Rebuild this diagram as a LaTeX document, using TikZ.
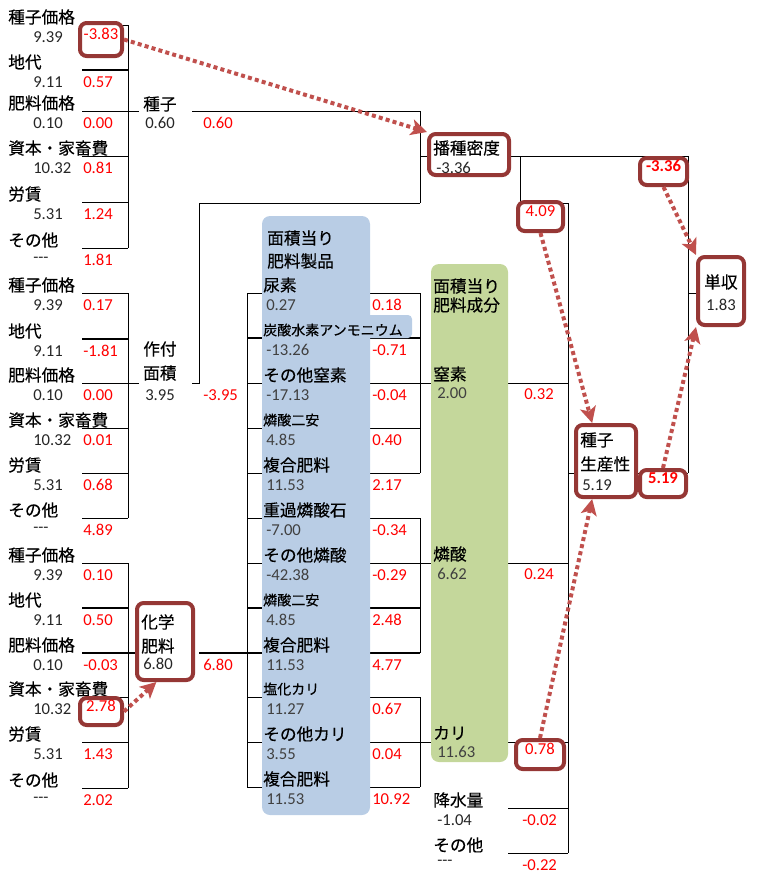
\documentclass[tikz,border=0pt]{standalone}
\usepackage{fontspec}
\setmainfont{Carlito}
\newfontfamily\jp[FakeBold=0.35]{Noto Sans CJK JP}
\usetikzlibrary{arrows.meta, fit}
\definecolor{pmblue}{RGB}{185, 205, 229}
\definecolor{pmgreen}{RGB}{196, 215, 155}
\definecolor{pmbox}{RGB}{149, 55, 53}
\definecolor{pmarrow}{RGB}{192, 80, 77}
\definecolor{pmgray}{RGB}{64, 64, 64}
\definecolor{pmred}{RGB}{255, 0, 0}

\begin{document}
\begin{tikzpicture}[
  x=0.75pt, y=-0.75pt,
  lab/.style={
    anchor=west, inner sep=0pt,
    font=\jp\fontsize{12.5}{15}\selectfont
  },
  smlab/.style={lab, font=\jp\fontsize{10.5}{12}\selectfont},
  val/.style={
    anchor=west, inner sep=0pt,
    font=\fontsize{12.5}{15}\selectfont, text=black!85
  },
  pval/.style={val, text=pmgray},
  coef/.style={val, text=pmred},
  bar/.style={draw=black, line width=0.75pt},
  thickbar/.style={draw=black, line width=1.6pt},
  hlbox/.style={
    rectangle, rounded corners=5pt,
    draw=pmbox, fill=white,
    line width=3pt, inner sep=0pt,
    font=\fontsize{12.5}{15}\selectfont, text=pmred
  },
  hlarrow/.style={
    draw=pmarrow, line width=3pt,
    dash pattern=on 3pt off 2.4pt,
    -{Stealth[length=12pt, width=12pt, inset=3pt]}
  },
]
\useasboundingbox (0,0) rectangle (757,879);

%% ================================================================
%% BRACKET LINES
%% ================================================================

% group 1 -> seed
\draw[bar] (82,25) -- (128,25);
\draw[thickbar] (82,70) -- (128,70);
\draw[bar] (82,111) -- (139,111);
\draw[bar] (82,156) -- (128,156);
\draw[bar] (82,202) -- (128,202);
\draw[bar] (82,248) -- (128,248);
\draw[bar] (128,25) -- (128,248);

% group 2 -> sown area
\draw[bar] (82,293) -- (128,293);
\draw[thickbar] (82,339) -- (128,339);
\draw[bar] (82,383) -- (139,383);
\draw[bar] (82,428) -- (128,428);
\draw[bar] (82,473) -- (128,473);
\draw[bar] (82,518) -- (128,518);
\draw[bar] (128,293) -- (128,518);

% group 3 -> chemical fertilizer
\draw[bar] (82,563) -- (128,563);
\draw[thickbar] (82,608) -- (128,608);
\draw[thickbar] (82,653) -- (139,653);
\draw[bar] (82,697) -- (128,697);
\draw[bar] (82,742) -- (128,742);
\draw[bar] (82,788) -- (128,788);
\draw[bar] (128,563) -- (128,788);

% seed + sown area -> sowing density
\draw[bar] (192,111) -- (420,111);
\draw[bar] (192,383) -- (199,383) -- (199,203) -- (420,203);
\draw[bar] (420,111) -- (420,203);
\draw[bar] (420,156) -- (427,156);

% sowing density + seed productivity -> yield
\draw[bar] (511,156) -- (688,156);
\draw[bar] (688,156) -- (688,473);
\draw[bar] (688,293) -- (696,293);

% inputs -> seed productivity
\draw[bar] (520,156) -- (520,203) -- (568,203);
\draw[bar] (568,203) -- (568,853);
\draw[bar] (568,473) -- (574,473);
\draw[bar] (638,473) -- (688,473);

% chemical fertilizer -> products
\draw[thickbar] (199,653) -- (247,653);
\draw[bar] (247,293) -- (247,787);
\draw[bar] (247,293) -- (420,293);
\draw[thickbar] (247,338) -- (420,338);
\draw[bar] (247,383) -- (420,383);
\draw[bar] (247,428) -- (420,428);
\draw[bar] (247,473) -- (420,473);
\draw[bar] (247,518) -- (420,518);
\draw[bar] (247,563) -- (420,563);
\draw[thickbar] (247,608) -- (420,608);
\draw[thickbar] (247,653) -- (420,653);
\draw[bar] (247,697) -- (420,697);
\draw[bar] (247,742) -- (420,742);
\draw[bar] (247,787) -- (420,787);

% products -> nutrients -> seed productivity
\draw[bar] (420,293) -- (420,473);
\draw[bar] (420,518) -- (420,653);
\draw[bar] (420,697) -- (420,787);
\draw[bar] (420,383) -- (568,383);
\draw[bar] (420,563) -- (568,563);
\draw[bar] (420,742) -- (568,742);
\draw[bar] (508,808) -- (568,808);
\draw[bar] (508,853) -- (568,853);

%% ================================================================
%% PANELS
%% ================================================================
\fill[pmblue, rounded corners=6pt] (262,216) rectangle (370,815);
\fill[pmblue, rounded corners=3pt] (330,315) rectangle (412,338);
\fill[pmgreen, rounded corners=6pt] (431,264) rectangle (508,762);

%% ================================================================
%% LEFT COLUMN: prices and costs
%% ================================================================

% group 1
\node[lab] (sdpr) at (8,17) {種子価格};
\node[val] (sdprv) at (33,37) {9.39};
\node[lab] (sdrent) at (8,62) {地代};
\node[val] (sdrentv) at (33,82) {9.11};
\node[coef] (sdrentc) at (83,82) {0.57};
\node[lab] (sdfp) at (8,103) {肥料価格};
\node[val] (sdfpv) at (33,123) {0.10};
\node[coef] (sdfpc) at (83,123) {0.00};
\node[lab] (sdcap) at (8,148) {資本・家畜費};
\node[val] (sdcapv) at (33,168) {10.32};
\node[coef] (sdcapc) at (83,168) {0.81};
\node[lab] (sdlab) at (8,194) {労賃};
\node[val] (sdlabv) at (33,214) {5.31};
\node[coef] (sdlabc) at (83,214) {1.24};
\node[lab] (sdoth) at (8,240) {その他};
\node[val] (sdothv) at (33,260) {-{}-{}-};
\node[coef] (sdothc) at (83,260) {1.81};

% group 2
\node[lab] (arpr) at (8,285) {種子価格};
\node[val] (arprv) at (33,305) {9.39};
\node[coef] (arprc) at (83,305) {0.17};
\node[lab] (arrent) at (8,331) {地代};
\node[val] (arrentv) at (33,351) {9.11};
\node[coef] (arrentc) at (83,351) {-1.81};
\node[lab] (arfp) at (8,375) {肥料価格};
\node[val] (arfpv) at (33,395) {0.10};
\node[coef] (arfpc) at (83,395) {0.00};
\node[lab] (arcap) at (8,420) {資本・家畜費};
\node[val] (arcapv) at (33,440) {10.32};
\node[coef] (arcapc) at (83,440) {0.01};
\node[lab] (arlab) at (8,465) {労賃};
\node[val] (arlabv) at (33,485) {5.31};
\node[coef] (arlabc) at (83,485) {0.68};
\node[lab] (aroth) at (8,510) {その他};
\node[val] (arothv) at (33,530) {-{}-{}-};
\node[coef] (arothc) at (83,530) {4.89};

% group 3
\node[lab] (cfpr) at (8,555) {種子価格};
\node[val] (cfprv) at (33,575) {9.39};
\node[coef] (cfprc) at (83,575) {0.10};
\node[lab] (cfrent) at (8,600) {地代};
\node[val] (cfrentv) at (33,620) {9.11};
\node[coef] (cfrentc) at (83,620) {0.50};
\node[lab] (cffp) at (8,645) {肥料価格};
\node[val] (cffpv) at (33,665) {0.10};
\node[coef] (cffpc) at (83,665) {-0.03};
\node[lab] (cfcap) at (8,689) {資本・家畜費};
\node[val] (cfcapv) at (33,709) {10.32};
\node[lab] (cflab) at (8,734) {労賃};
\node[val] (cflabv) at (33,754) {5.31};
\node[coef] (cflabc) at (83,754) {1.43};
\node[lab] (cfoth) at (8,780) {その他};
\node[val] (cfothv) at (33,800) {-{}-{}-};
\node[coef] (cfothc) at (83,800) {2.02};

%% ================================================================
%% SECOND COLUMN: seed, sown area, chemical fertilizer
%% ================================================================
\node[lab] (seed) at (143,104) {種子};
\node[val] (seedv) at (145,123) {0.60};
\node[coef] (seedc) at (203,123) {0.60};

\node[lab] (area1) at (143,349) {作付};
\node[lab] (area2) at (143,373) {面積};
\node[val] (areav) at (145,395) {3.95};
\node[coef] (areac) at (203,395) {-3.95};

\node[hlbox, fit={(137,603) (193,680)}] (chem) {};
\node[lab] (chem1) at (141,622) {化学};
\node[lab] (chem2) at (141,646) {肥料};
\node[val] (chemv) at (143,664) {6.80};
\node[coef] (chemc) at (203,665) {6.80};

%% ================================================================
%% BLUE PANEL: fertilizer products per area
%% ================================================================
\node[lab] (prodt1) at (267,238) {面積当り};
\node[lab] (prodt2) at (267,261) {肥料製品};

\node[lab] (urea) at (263,285) {尿素};
\node[pval] (ureav) at (266,305) {0.27};
\node[coef] (ureac) at (372,305) {0.18};
\node[smlab] (abc) at (263,330) {炭酸水素アンモニウム};
\node[pval] (abcv) at (266,350) {-13.26};
\node[coef] (abcc) at (372,350) {-0.71};
\node[lab] (onit) at (263,375) {その他窒素};
\node[pval] (onitv) at (266,395) {-17.13};
\node[coef] (onitc) at (372,395) {-0.04};
\node[smlab] (dapa) at (263,420) {燐酸二安};
\node[pval] (dapav) at (266,440) {4.85};
\node[coef] (dapac) at (372,440) {0.40};
\node[lab] (cmpa) at (263,465) {複合肥料};
\node[pval] (cmpav) at (266,485) {11.53};
\node[coef] (cmpac) at (372,485) {2.17};
\node[lab] (tsp) at (263,510) {重過燐酸石};
\node[pval] (tspv) at (266,530) {-7.00};
\node[coef] (tspc) at (372,530) {-0.34};
\node[lab] (ophos) at (263,555) {その他燐酸};
\node[pval] (ophosv) at (266,575) {-42.38};
\node[coef] (ophosc) at (372,575) {-0.29};
\node[smlab] (dapb) at (263,600) {燐酸二安};
\node[pval] (dapbv) at (266,620) {4.85};
\node[coef] (dapbc) at (372,620) {2.48};
\node[lab] (cmpb) at (263,645) {複合肥料};
\node[pval] (cmpbv) at (266,665) {11.53};
\node[coef] (cmpbc) at (372,665) {4.77};
\node[smlab] (kcl) at (263,689) {塩化カリ};
\node[pval] (kclv) at (266,709) {11.27};
\node[coef] (kclc) at (372,709) {0.67};
\node[lab] (opot) at (263,734) {その他カリ};
\node[pval] (opotv) at (266,754) {3.55};
\node[coef] (opotc) at (372,754) {0.04};
\node[lab] (cmpc) at (263,779) {複合肥料};
\node[pval] (cmpcv) at (266,799) {11.53};
\node[coef] (cmpcc) at (372,799) {10.92};

%% ================================================================
%% GREEN PANEL: nutrients per area
%% ================================================================
\node[lab] (nutt1) at (433,286) {面積当り};
\node[lab] (nutt2) at (433,305) {肥料成分};

\node[lab] (nitro) at (433,374) {窒素};
\node[pval] (nitrov) at (437,393) {2.00};
\node[coef] (nitroc) at (524,394) {0.32};
\node[lab] (phos) at (433,554) {燐酸};
\node[pval] (phosv) at (437,574) {6.62};
\node[coef] (phosc) at (524,574) {0.24};
\node[lab] (pota) at (433,733) {カリ};
\node[pval] (potav) at (437,752) {11.63};

\node[lab] (rain) at (433,800) {降水量};
\node[val] (rainv) at (437,820) {-1.04};
\node[coef] (rainc) at (522,820) {-0.02};
\node[lab] (other) at (433,845) {その他};
\node[val] (otherv) at (437,863) {-{}-{}-};
\node[coef] (otherc) at (522,865) {-0.22};

%% ================================================================
%% RESULT BOXES
%% ================================================================
\node[hlbox, fit={(429,134) (509,175)}] (sow) {};
\node[lab] (sowl) at (433,148) {播種密度};
\node[val] (sowv) at (436,168) {-3.36};

\node[hlbox, fit={(576,425) (636,497)}] (seedprod) {};
\node[lab] (sp1) at (580,440) {種子};
\node[lab] (sp2) at (580,464) {生産性};
\node[val] (spv) at (582,485) {5.19};

\node[hlbox, fit={(698,257) (744,325)}] (yield) {};
\node[lab, anchor=center] (yieldl) at (721,282) {単収};
\node[val, anchor=center] (yieldv) at (721,305) {1.83};

% highlighted coefficients
\node[hlbox, fit={(80,23) (122,56)}] (b383) {-3.83};
\node[hlbox, fit={(80,698) (122,725)}] (b278) {2.78};
\node[hlbox, fit={(518,202) (563,231)}] (b409) {4.09};
\node[hlbox, fit={(640,158) (687,185)}, font=\fontsize{12.5}{15}\selectfont\bfseries] (b336) {-3.36};
\node[hlbox, fit={(640,470) (686,497)}, font=\fontsize{12.5}{15}\selectfont\bfseries] (b519) {5.19};
\node[hlbox, fit={(516,740) (564,769)}] (b078) {0.78};

%% ================================================================
%% HIGHLIGHT ARROWS
%% ================================================================
\draw[hlarrow] (b383.east) -- (sow.north west);
\draw[hlarrow] (b278.east) -- (chem.258);
\draw[hlarrow] (b409.south) -- (seedprod.110);
\draw[hlarrow] (b336.south) -- (yield.north west);
\draw[hlarrow] (b078.north) -- (seedprod.250);
\draw[hlarrow] (b519.north) -- (yield.south west);

\end{tikzpicture}
\end{document}
